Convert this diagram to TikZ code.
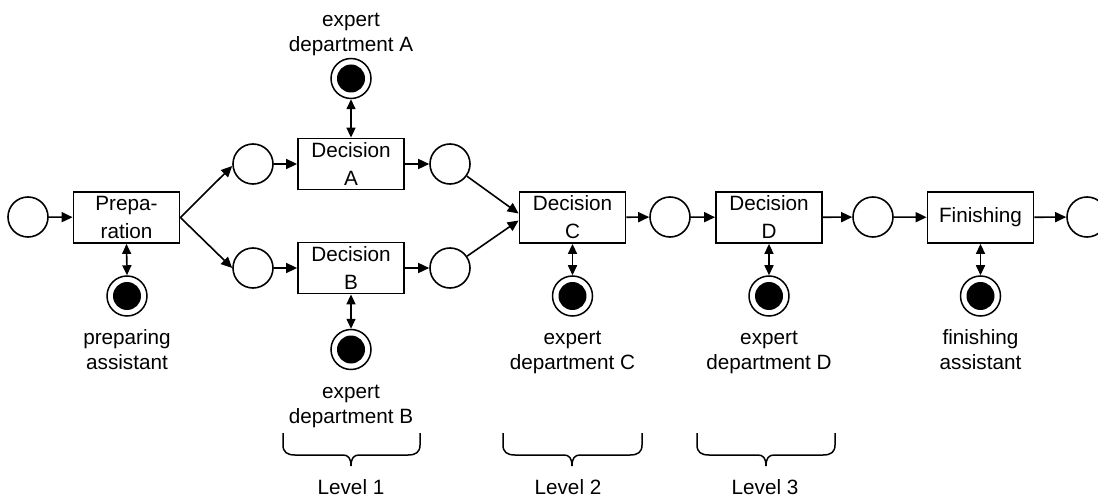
\documentclass[tikz,border=0pt]{standalone}
\usepackage{fontspec}
\setmainfont{Liberation Sans}
\usetikzlibrary{arrows.meta}
\newcommand\boxfont{\fontsize{20.7}{28}\selectfont}
\newcommand\labfont{\fontsize{20.7}{25}\selectfont}
\begin{document}
\begin{tikzpicture}[x=1pt,y=-1pt,
  place/.style={circle,draw,line width=1.6pt,minimum size=40pt,inner sep=0pt},
  res/.style={circle,draw,line width=1.5pt,minimum size=40pt,inner sep=0pt,
    path picture={\fill (path picture bounding box.center) circle (14pt);}},
  trans/.style={rectangle,draw,line width=1.8pt,minimum width=106pt,minimum height=51pt,
    inner sep=0pt,align=center,font=\boxfont},
  lab/.style={align=center,inner sep=0pt,font=\labfont},
  arr/.style={line width=1.6pt,-{Triangle[length=11pt,width=10pt]}},
  darr/.style={line width=1.6pt,{Triangle[length=10pt,width=9pt]}-{Triangle[length=10pt,width=9pt]}},
  bracestyle/.style={line width=1.5pt,line join=round}
]
\useasboundingbox (0,0) rectangle (1098,497);

% places
\node[place] (p0)  at (28,217) {};
\node[place] (pai) at (253,164) {};
\node[place] (pbi) at (253,268) {};
\node[place] (pao) at (450,164) {};
\node[place] (pbo) at (450,268) {};
\node[place] (pc)  at (670,217) {};
\node[place] (pd)  at (873,217) {};
\node[place] (pe)  at (1087,217) {};

% transitions
\node[trans] (prep) at (126.5,217.5) {Prepa-\\ration};
\node[trans] (decA) at (351,164) {Decision\\A};
\node[trans] (decB) at (351,268) {Decision\\B};
\node[trans] (decC) at (572.5,217.5) {Decision\\C};
\node[trans] (decD) at (769,217.5) {Decision\\D};
\node[trans] (fin)  at (980.5,217.5) {Finishing};

% resources
\node[res] (resA) at (351,78.5) {};
\node[res] (resB) at (351,349.5) {};
\node[res] (resP) at (127,296) {};
\node[res] (resC) at (572.5,296) {};
\node[res] (resD) at (769,296) {};
\node[res] (resF) at (980.5,296) {};

% labels
\node[lab] (labA) at (351,34) {\strut expert\\department A\strut};
\node[lab] (labB) at (351,405.5) {\strut expert\\department B\strut};
\node[lab] (labP) at (127,352) {\strut preparing\\assistant\strut};
\node[lab] (labC) at (572.5,352) {\strut expert\\department C\strut};
\node[lab] (labD) at (769,352) {\strut expert\\department D\strut};
\node[lab] (labF) at (980.5,352) {\strut finishing\\assistant\strut};

% flow arrows
\draw[arr] (p0) -- (prep);
\draw[arr] (prep.east) -- ([yshift=-2pt]pai.west);
\draw[arr] (prep.east) -- (pbi.west);
\draw[arr] (pai) -- (decA);
\draw[arr] (pbi) -- (decB);
\draw[arr] (decA) -- (pao);
\draw[arr] (decB) -- (pbo);
\draw[arr] (pao) -- ([yshift=4pt]decC.west);
\draw[arr] (pbo) -- ([yshift=-3pt]decC.west);
\draw[arr] (decC) -- (pc);
\draw[arr] (pc) -- (decD);
\draw[arr] (decD) -- (pd);
\draw[arr] (pd) -- (fin);
\draw[arr] (fin) -- (pe);

% resource arrows
\draw[darr] (decA.north) -- (resA.south);
\draw[darr] (decB.south) -- (resB.north);
\draw[darr] (prep.south) -- (resP.north);
\draw[darr] (decC.south) -- (resC.north);
\draw[darr] (decD.south) -- (resD.north);
\draw[darr] (fin.south) -- (resF.north);

% level braces
\foreach \L/\M/\R in {283/351/420, 503/572/642, 697/766/835}{
  \draw[bracestyle] (\L,433) -- (\L,445) .. controls (\L,452) and ({\L+4},455) .. ({\L+12},455)
    -- ({\M-8},455) .. controls ({\M-3},455) and (\M,458) .. (\M,466);
  \draw[bracestyle] (\R,433) -- (\R,445) .. controls (\R,452) and ({\R-4},455) .. ({\R-12},455)
    -- ({\M+8},455) .. controls ({\M+3},455) and (\M,458) .. (\M,466);
}
\node[lab] (lev1) at (351,489) {\strut Level 1};
\node[lab] (lev2) at (568,489) {\strut Level 2};
\node[lab] (lev3) at (765,489) {\strut Level 3};
\end{tikzpicture}
\end{document}
